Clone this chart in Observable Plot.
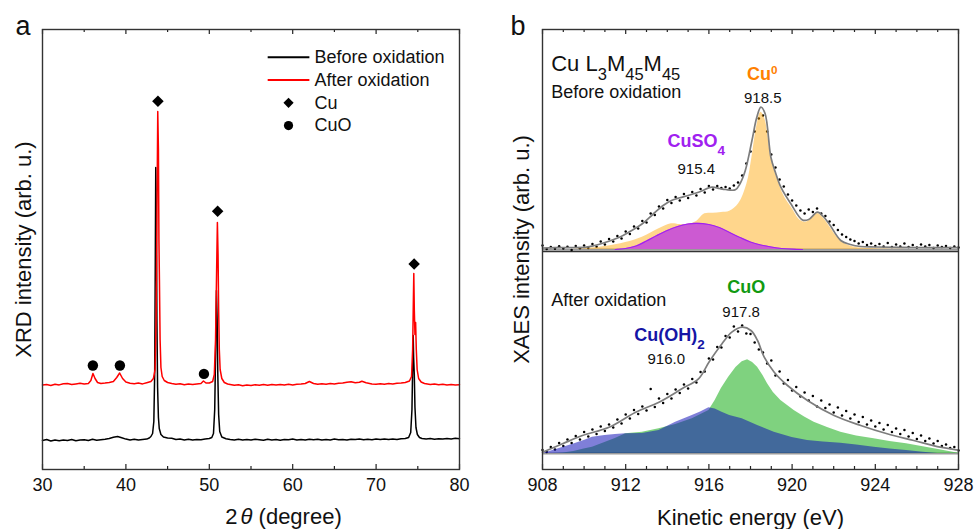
<!DOCTYPE html>
<html><head><meta charset="utf-8">
<script src="https://cdn.jsdelivr.net/npm/d3@7"></script>
<script src="https://cdn.jsdelivr.net/npm/@observablehq/plot@0.6"></script>
<style>
body{margin:0;background:#fff;}
#wrap{position:relative;width:974px;height:529px;background:#fff;}
#pa,#pb{position:absolute;top:0;}
#pa{left:0}#pb{left:487px}
</style></head><body><div id="wrap"><div id="pa"></div><div id="pb"></div></div>
<script>
const FONT = '"Liberation Sans", Arial, Helvetica, sans-serif';

// ---------------- Panel a: XRD ----------------
const xrdBefore = [[30,29],[30.5,30],[31,28.5],[31.5,29.5],[32,28.8],[32.5,29.6],[33,29],[33.5,30],[34,28.7],[34.5,29.4],[35,29.8],[35.5,29],[36,30.2],[36.5,29.2],[37,29.8],[37.5,30.3],[38,31],[38.5,32.2],[39,33],[39.5,31.8],[40,30.4],[40.5,29.6],[41,30.2],[41.5,29.4],[42,30],[42.5,30.4],[42.8,31.5],[43.0,33],[43.2,36],[43.35,48],[43.45,95],[43.52,200],[43.58,302],[43.65,255],[43.72,150],[43.8,82],[43.9,52],[44.0,41],[44.2,35],[44.5,32.5],[45,31.5],[45.5,31.2],[46,30],[46.5,30.5],[47,29.6],[47.5,30.2],[48,29.4],[48.5,30],[49,29.7],[49.5,30.4],[50,31],[50.3,32],[50.5,36],[50.65,60],[50.78,130],[50.86,179],[50.94,150],[51.02,95],[51.12,55],[51.25,38],[51.5,32.5],[52,30.8],[52.5,30],[53,29.5],[53.5,30.3],[54,29.6],[54.5,30.1],[55,29.4],[55.5,30.2],[56,29.8],[56.5,29.2],[57,30.3],[57.5,29.6],[58,30],[58.5,29.3],[59,30.1],[59.5,29.7],[60,30.4],[60.5,29.5],[61,30],[61.5,29.4],[62,30.2],[62.5,29.7],[63,30.3],[63.5,29.5],[64,30],[64.5,29.6],[65,30.4],[65.5,29.8],[66,30.1],[66.5,29.5],[67,30.3],[67.5,29.9],[68,30.5],[68.5,29.7],[69,30.2],[69.5,29.8],[70,30.4],[70.5,29.9],[71,30.6],[71.5,30.1],[72,30.5],[72.5,30],[73,30.7],[73.5,31],[73.9,32],[74.15,37],[74.3,60],[74.4,110],[74.45,134],[74.5,112],[74.58,95],[74.66,62],[74.78,42],[74.95,35],[75.2,32],[75.5,31],[76,30.5],[76.5,30.9],[77,30.3],[77.5,30.8],[78,30.4],[78.5,31],[79,30.6],[79.5,31.2],[80,30.8]];
const xrdAfter = [[30,84.5],[30.5,85],[31,84],[31.5,85.2],[32,84.6],[32.5,85.8],[33,86],[33.5,85],[34,85.6],[34.5,86.2],[35,85.4],[35.5,86],[35.8,89],[36.05,96],[36.3,91],[36.6,87],[37,86],[37.5,86.4],[38,87],[38.5,88],[38.9,92],[39.25,96.5],[39.6,91],[40,87.5],[40.5,86.2],[41,85.8],[41.5,86.4],[42,85.6],[42.5,86.8],[43,88],[43.3,91],[43.5,100],[43.62,150],[43.72,250],[43.82,358],[43.9,320],[43.96,230],[44.02,190],[44.1,130],[44.2,102],[44.35,93],[44.6,89],[45,87],[45.5,86],[46,85.2],[46.5,85.8],[47,84.8],[47.5,85.5],[48,85],[48.5,85.6],[49,86],[49.3,88.5],[49.6,86.5],[50,86.5],[50.4,88],[50.6,95],[50.75,130],[50.88,200],[50.97,247],[51.05,215],[51.12,160],[51.2,120],[51.3,100],[51.5,91],[51.8,87],[52.2,85.5],[52.5,85],[53,84.2],[53.5,84.8],[54,83.8],[54.5,84.6],[55,84],[55.5,84.8],[56,84.2],[56.5,84.9],[57,84.3],[57.5,85],[58,84.4],[58.5,85.1],[59,84.5],[59.5,85.2],[60,84.6],[60.5,85.3],[61,85.5],[61.5,86],[62,88],[62.5,86],[63,85.2],[63.5,85.7],[64,85.3],[64.5,85.9],[65,85.5],[65.5,86.2],[66,86.5],[66.5,87.3],[67,87.8],[67.5,86.8],[68,87.2],[68.3,88.3],[68.8,86.8],[69.5,85.6],[70,85.2],[70.5,85.8],[71,85.3],[71.5,85.9],[72,85.6],[72.5,86.3],[73,86.5],[73.5,87],[74,88.5],[74.25,93],[74.38,120],[74.47,170],[74.52,196],[74.58,160],[74.66,135],[74.74,147],[74.82,120],[74.92,100],[75.1,91],[75.4,87.5],[75.8,86],[76.5,85],[77,85.6],[77.5,84.8],[78,85.3],[78.5,84.6],[79,85.1],[79.5,84.5],[80,84.8]];
const cuPeakMarks = [[43.84,368.3],[51.0,258.2],[74.56,205.4]];
const cuoPeakMarks = [[36.04,104],[39.28,104],[49.36,95.6]];
const xrdTicks = [30,40,50,60,70,80];
const xrdMinorTicks = [35,45,55,65,75];
const xrdLegend = ["Before oxidation","After oxidation","Cu","CuO"];
const xrdXTitle = "2θ (degree)";
const xrdYTitle = "XRD intensity (arb. u.)";

// ---------------- Panel b: XAES ----------------
const xaesTicks = [908,912,916,920,924,928];
const xaesMinorTicks = [909,910,911,913,914,915,917,918,919,921,922,923,925,926,927];
const xaesXTitle = "Kinetic energy (eV)";
const xaesYTitle = "XAES intensity (arb. u.)";
// Before oxidation (heights above its own baseline)
const beforeFit = [[908,1.5],[909,2],[910.1,2.3],[910.5,4],[911,7],[911.7,12.3],[912.2,18],[912.8,25.7],[913.3,35],[913.8,44],[914.2,49],[914.6,51.7],[915,54],[915.5,57.3],[916.15,62.3],[916.5,61],[916.8,60],[917.27,59.7],[917.5,66],[917.75,79],[918.07,109],[918.3,132],[918.5,142.3],[918.7,136],[918.98,92.3],[919.2,77],[919.46,62.3],[919.94,45.7],[920.5,29.5],[920.8,30],[921.22,37.3],[921.5,33],[921.78,25.7],[922.34,9],[922.8,5],[923.3,3],[924,2.5],[926,2],[928,2]];
const beforeCu0 = [[909.3,0],[910,0.8],[911,3],[912,7],[912.8,12.3],[913.6,20.7],[914.2,25.7],[914.6,25],[915.0,25],[915.4,28],[915.8,35.7],[916.2,36.3],[916.6,37],[917.0,38.3],[917.43,45.7],[917.83,65.7],[918.07,92.3],[918.3,123],[918.5,137.3],[918.7,130],[919.0,90],[919.3,70],[919.6,54],[920.0,41],[920.4,29],[920.7,27.5],[921.0,32],[921.22,36],[921.5,31.5],[921.8,23],[922.1,14],[922.4,7.5],[922.8,3.5],[923.3,1.5],[924,0.8],[925,0.3],[926,0]];
const beforeCuSO4 = [[911.5,0],[912,1],[912.5,3.5],[913,8.5],[913.5,14],[914,19],[914.5,23],[915,25.5],[915.4,26.2],[916,25],[916.5,22],[917,17],[917.5,12],[918,7.5],[918.5,4.5],[919,2.5],[919.5,1],[920,0.3],[920.5,0]];
const dotStart = 908, dotStep = 0.2;
const beforeDots = [4.0,0.5,2.5,0.8,3.2,1.0,2.8,-0.5,3.5,1.2,4.0,1.5,5.5,2.8,8.0,5.0,10.5,8.0,13.5,11.0,18.0,15.5,23.0,21.0,28.5,27.0,36.0,34.5,43.0,41.0,49.5,46.5,52.5,49.0,55.5,51.5,57.5,54.0,60.5,57.0,63.5,60.0,63.5,61.5,62.5,61.0,64.0,67.0,74.0,86.0,98.0,118.0,131.0,134.0,118.0,95.0,82.0,70.0,63.0,55.0,49.0,44.0,39.0,36.0,40.0,37.5,41.0,36.0,33.5,28.0,24.5,19.5,15.0,12.5,10.0,8.5,6.0,7.5,4.5,6.0,3.5,5.5,3.0,6.5,2.5,5.0,3.0,6.0,2.5,4.5,2.0,5.0,3.0,4.5,1.5,4.0,2.5,3.5,1.5,3.0,2.0];
// After oxidation
const afterFit = [[908,1.3],[908.96,9.7],[909.92,18],[911.2,26.3],[912.48,41.3],[913.6,51.3],[914.7,64.7],[915.5,74.7],[916,91.3],[916.63,109.7],[917.1,121.3],[917.6,126.3],[918.02,123],[918.34,113],[918.66,96.3],[919.14,81.3],[919.78,68],[920.74,53],[922.02,38],[923.3,28],[924.57,19.7],[925.85,13],[927.13,6.3],[927.9,3.7],[928,3.5]];
const afterCuO = [[908.5,0],[909,0.5],[909.5,2],[910,4.5],[910.4,6.3],[911,11],[911.5,15],[912,19.7],[912.8,21.3],[913.6,24.7],[914.4,29],[915.2,34.7],[916.0,43],[916.3,53],[916.6,65],[916.95,76.3],[917.3,86],[917.6,91.8],[917.86,93.7],[918.1,91],[918.34,86.3],[918.6,78],[918.82,69.7],[919.1,61],[919.46,53],[920.1,43],[920.6,36.5],[921.06,31.3],[921.7,26],[922.34,21.3],[923.1,17.5],[923.94,14.7],[924.7,12],[925.5,9.7],[926.3,6.8],[927.1,3.7],[927.8,1],[928,0.5]];
const afterCuOH2 = [[908,0],[908.5,3],[909,6.3],[909.5,9.5],[910,13],[910.4,16.3],[911,18],[911.5,19],[912,19.7],[912.8,20],[913.6,23],[914.4,31.3],[915.2,38],[915.6,41.5],[916.0,45.7],[916.3,44.5],[916.63,41.3],[917.0,38],[917.6,34.7],[918.34,28],[919.14,21.3],[920,16],[920.74,13],[921.5,11.5],[922.34,10.3],[923.1,8.5],[923.94,6.3],[924.7,4.5],[925.5,3],[926.3,1.3],[927,0]];
const afterDots = [3.5,1.5,6.5,4.0,10.5,7.5,14.0,10.5,17.5,14.0,21.5,17.0,24.0,19.5,27.0,22.5,29.0,26.0,34.0,30.0,39.0,35.0,43.5,39.5,47.0,43.0,64.5,46.5,55.0,50.5,59.5,55.0,64.0,60.5,69.0,65.0,74.5,71.0,81.5,82.0,95.0,94.0,106.5,106.0,117.5,116.0,127.0,122.0,128.0,120.0,119.5,111.0,104.0,101.0,90.0,93.0,78.0,82.0,70.0,73.5,63.0,66.5,57.0,61.0,53.0,57.5,47.0,53.0,45.5,49.0,41.0,46.0,38.0,42.5,35.0,39.0,31.5,36.5,29.0,33.0,27.0,30.5,24.0,28.5,21.5,25.0,19.5,23.5,17.0,20.5,14.5,18.0,12.5,15.0,10.0,12.5,7.5,9.0,5.5,6.5,3.0];
// annotation labels: [text, energy, level]
const xaesHeaders = [["Cu L3M45M45",908.42,405.7],["Before oxidation",908.42,377.3],["After oxidation",908.42,169]];
const xaesSpecies = [["Cu0",918.56,395.7,"#ff8000"],["CuSO4",915.39,328.3,"#a020f0"],["CuO",917.79,182.3,"#119a11"],["Cu(OH)2",914.11,134,"#1515a5"]];
const xaesPositions = [["918.5",918.59,371.7],["915.4",915.39,300],["917.8",917.55,157.3],["916.0",913.95,110.7]];

// ---------------- helpers ----------------
const Y_DOMAIN = [0, 440];
const MT = 29, MB = 60, H = 529;
const unitPerPx = (Y_DOMAIN[1]-Y_DOMAIN[0])/(H-MT-MB);
const TOP_OFF = 220, BOT_OFF = 16, DIVIDER = 218;

function innerTicks(major, minor){
  const L = 5*unitPerPx, l = 3*unitPerPx, lo = Y_DOMAIN[0], hi = Y_DOMAIN[1];
  const st = {stroke:"#222", strokeWidth:1.2};
  return [
    Plot.ruleX(major,{x:d=>d, y1:()=>lo, y2:()=>lo+L, ...st}),
    Plot.ruleX(minor,{x:d=>d, y1:()=>lo, y2:()=>lo+l, ...st}),
    Plot.ruleX(major,{x:d=>d, y1:()=>hi, y2:()=>hi-L, ...st}),
    Plot.ruleX(minor,{x:d=>d, y1:()=>hi, y2:()=>hi-l, ...st})
  ];
}
const RICH = {
  "Cu L3M45M45": [["Cu L"],["3","sub"],["M"],["45","sub"],["M"],["45","sub"]],
  "CuSO4": [["CuSO"],["4","sub"]],
  "Cu(OH)2": [["Cu(OH)"],["2","sub"]],
  "Cu0": [["Cu"],["0","sup"]],
  "2θ (degree)": [["2"],["θ","it"],[" (degree)"]]
};
function enrich(svg){
  svg.querySelectorAll("text").forEach(t=>{
    const parts = RICH[t.textContent]; if(!parts) return;
    t.textContent = "";
    for(const [s,k] of parts){
      const ts = document.createElementNS("http://www.w3.org/2000/svg","tspan");
      ts.textContent = s;
      if(k==="sub"){ts.setAttribute("font-size","75%"); ts.setAttribute("baseline-shift","sub");}
      if(k==="sup"){ts.setAttribute("font-size","65%"); ts.setAttribute("baseline-shift","super");}
      if(k==="it"){ts.setAttribute("font-style","italic"); ts.setAttribute("dx","3");}
      t.appendChild(ts);
    }
  });
}

// ---------------- Panel a ----------------
const legY0 = 412.3, legStep = 22.8, legLineX = [57, 62], legSymX = 59.5, legTextX = 62.6;
const legRows = xrdLegend.map((label,i)=>({label, i, y: legY0 - i*legStep}));
const plotA = Plot.plot({
  width: 487, height: H, marginLeft: 42, marginRight: 28, marginTop: MT, marginBottom: MB,
  style: {fontFamily: FONT, fontSize: "18px", background: "white", color: "#111"},
  x: {domain: [30, 80]},
  y: {domain: Y_DOMAIN, axis: null},
  marks: [
    Plot.line(xrdBefore, {x: d=>d[0], y: d=>d[1], stroke: "#000", strokeWidth: 1.5}),
    Plot.line(xrdAfter, {x: d=>d[0], y: d=>d[1], stroke: "#f00", strokeWidth: 1.5}),
    Plot.dot(cuPeakMarks, {x: d=>d[0], y: d=>d[1], symbol: "diamond2", r: 5.2, fill: "#000", stroke: null}),
    Plot.dot(cuoPeakMarks, {x: d=>d[0], y: d=>d[1], symbol: "circle", r: 5.2, fill: "#000", stroke: null}),
    // legend
    Plot.link(legRows.slice(0,2), {x1: ()=>legLineX[0], x2: ()=>legLineX[1], y1: d=>d.y, y2: d=>d.y, stroke: d=>["#000","#f00"][d.i], strokeWidth: 2}),
    Plot.dot(legRows.slice(2,3), {x: ()=>legSymX, y: d=>d.y, symbol: "diamond2", r: 4.6, fill: "#000", stroke: null}),
    Plot.dot(legRows.slice(3,4), {x: ()=>legSymX, y: d=>d.y, symbol: "circle", r: 4.6, fill: "#000", stroke: null}),
    Plot.text(legRows, {x: ()=>legTextX, y: d=>d.y, text: d=>d.label, textAnchor: "start", lineAnchor: "middle", fontSize: 18, fill: "#111"}),
    ...innerTicks(xrdTicks, xrdMinorTicks),
    Plot.frame({stroke: "#333", strokeWidth: 1.4}),
    Plot.axisX({ticks: xrdTicks, tickSize: 0, tickPadding: 9, fontSize: 18, label: null, tickFormat: d=>String(d)}),
    Plot.text([xrdXTitle], {frameAnchor: "bottom", dy: 47, dx: 32.5, fontSize: 22, textAnchor: "middle", lineAnchor: "middle", fill: "#111"}),
    Plot.text([xrdYTitle], {frameAnchor: "left", rotate: -90, dx: -19, fontSize: 22, textAnchor: "middle", lineAnchor: "middle", fill: "#111"}),
    Plot.text(["a"], {frameAnchor: "top-left", dx: -27, dy: -3, fontSize: 27, textAnchor: "start", lineAnchor: "middle", fill: "#111"})
  ]
});
enrich(plotA);
document.getElementById("pa").appendChild(plotA);

// ---------------- Panel b ----------------
const X = d=>d[0];
const plotB = Plot.plot({
  width: 487, height: H, marginLeft: 55, marginRight: 16, marginTop: MT, marginBottom: MB,
  style: {fontFamily: FONT, fontSize: "18px", background: "white", color: "#111"},
  x: {domain: [908, 928]},
  y: {domain: Y_DOMAIN, axis: null},
  marks: [
    Plot.ruleY([TOP_OFF, BOT_OFF], {y: d=>d, stroke: "#9a9a9a", strokeWidth: 2}),
    Plot.ruleY([DIVIDER], {y: d=>d, stroke: "#333", strokeWidth: 1.4}),
    // before oxidation
    Plot.dot(beforeDots, {x: (d,i)=>dotStart+i*dotStep, y: d=>TOP_OFF+d, r: 1.25, fill: "#000", stroke: null}),
    Plot.areaY(beforeCu0, {x: X, y1: ()=>TOP_OFF, y2: d=>TOP_OFF+d[1], fill: "#ffa500", fillOpacity: 0.45, curve: "catmull-rom"}),
    Plot.areaY(beforeCuSO4, {x: X, y1: ()=>TOP_OFF, y2: d=>TOP_OFF+d[1], fill: "#cc5ad2", curve: "catmull-rom"}),
    Plot.line(beforeCuSO4, {x: X, y: d=>TOP_OFF+d[1], stroke: "#a020f0", strokeWidth: 1.2, curve: "catmull-rom"}),
    Plot.line(beforeFit, {x: X, y: d=>TOP_OFF+d[1], stroke: "#7d7d7d", strokeWidth: 1.7, curve: "catmull-rom"}),
    // after oxidation
    Plot.dot(afterDots, {x: (d,i)=>dotStart+i*dotStep, y: d=>BOT_OFF+d, r: 1.25, fill: "#000", stroke: null}),
    Plot.areaY(afterCuO, {x: X, y1: ()=>BOT_OFF, y2: d=>BOT_OFF+d[1], fill: "#00a500", fillOpacity: 0.5}),
    Plot.areaY(afterCuOH2, {x: X, y1: ()=>BOT_OFF, y2: d=>BOT_OFF+d[1], fill: "#0a0ab4", fillOpacity: 0.52}),
    Plot.line(afterFit, {x: X, y: d=>BOT_OFF+d[1], stroke: "#7d7d7d", strokeWidth: 1.7, curve: "catmull-rom"}),
    // labels
    Plot.text(xaesHeaders.slice(0,1), {x: d=>d[1], y: d=>d[2], text: d=>d[0], textAnchor: "start", lineAnchor: "middle", fontSize: 22, fill: "#111"}),
    Plot.text(xaesHeaders.slice(1), {x: d=>d[1], y: d=>d[2], text: d=>d[0], textAnchor: "start", lineAnchor: "middle", fontSize: 18, fill: "#111"}),
    ...xaesSpecies.map(s => Plot.text([s], {x: d=>d[1], y: d=>d[2], text: d=>d[0], textAnchor: "middle", lineAnchor: "middle", fontSize: 18, fontWeight: "bold", fill: s[3]})),
    Plot.text(xaesPositions, {x: d=>d[1], y: d=>d[2], text: d=>d[0], textAnchor: "middle", lineAnchor: "middle", fontSize: 15, fill: "#111"}),
    ...innerTicks(xaesTicks, xaesMinorTicks),
    Plot.frame({stroke: "#333", strokeWidth: 1.4}),
    Plot.axisX({ticks: xaesTicks, tickSize: 0, tickPadding: 9, fontSize: 18, label: null, tickFormat: d=>String(d)}),
    Plot.text([xaesXTitle], {frameAnchor: "bottom", dy: 48, fontSize: 22, textAnchor: "middle", lineAnchor: "middle", fill: "#111"}),
    Plot.text([xaesYTitle], {frameAnchor: "left", rotate: -90, dx: -21, fontSize: 22, textAnchor: "middle", lineAnchor: "middle", fill: "#111"}),
    Plot.text(["b"], {frameAnchor: "top-left", dx: -32, dy: -3, fontSize: 27, textAnchor: "start", lineAnchor: "middle", fill: "#111"})
  ]
});
enrich(plotB);
document.getElementById("pb").appendChild(plotB);
</script>
</body></html>
